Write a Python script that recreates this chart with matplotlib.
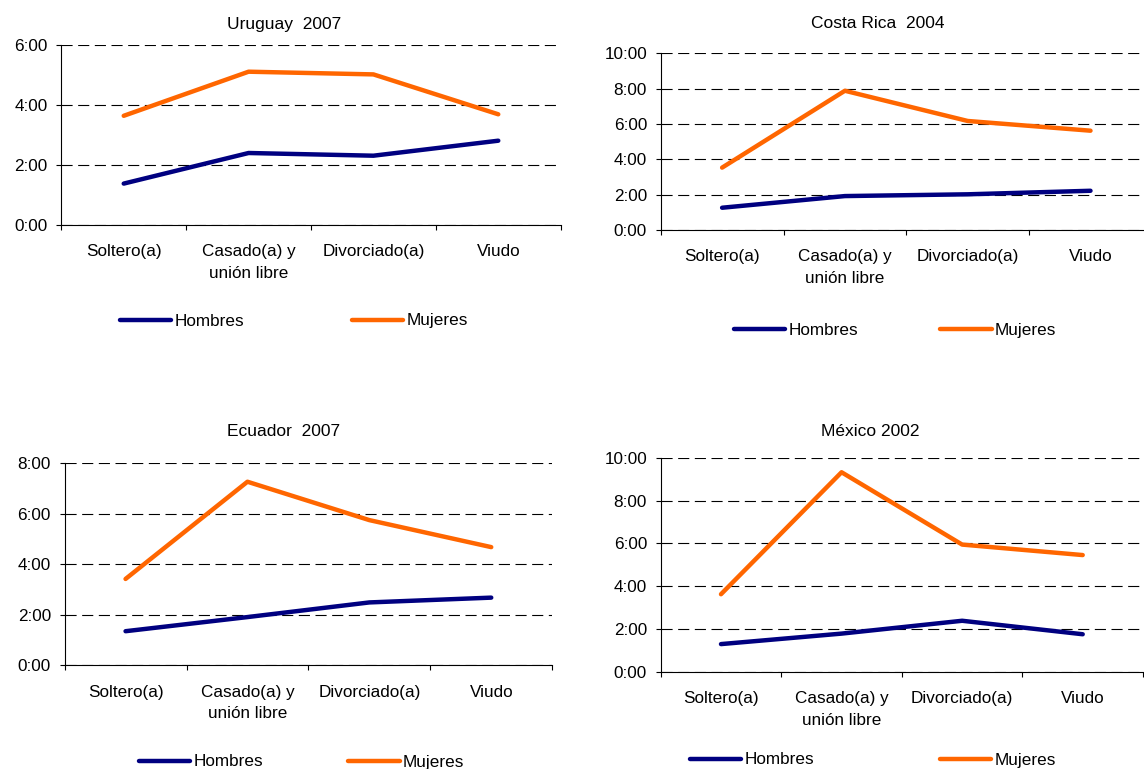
import numpy as np
import matplotlib
matplotlib.use('Agg')
import matplotlib.pyplot as plt
from matplotlib.ticker import FuncFormatter, FixedLocator

plt.rcParams['font.family'] = ['Liberation Sans', 'DejaVu Sans']

categorias = ['Soltero(a)', 'Casado(a) y\nunión libre', 'Divorciado(a)', 'Viudo']

# horas diarias promedio (en horas decimales)
uruguay_hombres = [1.38, 2.40, 2.31, 2.81]
uruguay_mujeres = [3.64, 5.11, 5.02, 3.69]
costarica_hombres = [1.26, 1.92, 2.02, 2.22]
costarica_mujeres = [3.53, 7.88, 6.17, 5.62]
ecuador_hombres = [1.35, 1.91, 2.49, 2.68]
ecuador_mujeres = [3.42, 7.27, 5.75, 4.68]
mexico_hombres = [1.29, 1.78, 2.38, 1.75]
mexico_mujeres = [3.62, 9.32, 5.94, 5.45]

titulos = ['Uruguay  2007', 'Costa Rica  2004', 'Ecuador  2007', 'México 2002']
y_max = [6, 10, 8, 10]

AZUL = '#000080'
NARANJA = '#FF6600'

W, H = 1144, 769
fig = plt.figure(figsize=(W / 100, H / 100), dpi=100)


def caja(left, right, top, bottom):
    # pixel box -> figure fraction
    return [left / W, 1 - bottom / H, (right - left) / W, (bottom - top) / H]


def hh_mm(v, pos):
    h = int(v)
    m = int(round((v - h) * 60))
    return '%d:%02d' % (h, m)


# (caja de ejes, posicion del titulo, inicio de la leyenda, espacio entre entradas)
layout = [
    ((61.3, 560.7, 45, 225), (284.6, 24), (120, 321), 6.3),
    ((660.7, 1151.9, 53.3, 230), (877.7, 24), (734, 330), 4.8),
    ((64.6, 552.2, 463.3, 665.3), (283.8, 431.7), (138.6, 762), 5.0),
    ((660.7, 1143, 457.7, 671.7), (870.4, 431.7), (689.5, 760), 7.4),
]
hombres = [uruguay_hombres, costarica_hombres, ecuador_hombres, mexico_hombres]
mujeres = [uruguay_mujeres, costarica_mujeres, ecuador_mujeres, mexico_mujeres]

x = np.arange(len(categorias)) + 0.5

for i in range(4):
    box, tpos, lpos, colsp = layout[i]
    ax = fig.add_axes(caja(*box))
    ax.set_facecolor('none')

    l1, = ax.plot(x, hombres[i], color=AZUL, lw=3.2, solid_capstyle='round',
                  solid_joinstyle='round', label='Hombres', zorder=3)
    l2, = ax.plot(x, mujeres[i], color=NARANJA, lw=3.2, solid_capstyle='round',
                  solid_joinstyle='round', label='Mujeres', zorder=3)

    ax.set_xlim(0, len(categorias))
    ax.set_ylim(0, y_max[i])
    ax.yaxis.set_major_locator(FixedLocator(np.arange(0, y_max[i] + 1, 2)))
    ax.yaxis.set_major_formatter(FuncFormatter(hh_mm))
    ax.yaxis.grid(True, color='black', lw=0.8, ls=(0, (10, 5)))
    ax.set_axisbelow(True)

    ax.set_xticks(np.arange(len(categorias) + 1))
    ax.set_xticklabels([])
    ax.set_xticks(x, minor=True)
    ax.set_xticklabels(categorias, minor=True, fontsize=12.3)
    for lbl in ax.get_xticklabels(minor=True):
        lbl.set_linespacing(1.55)
    ax.tick_params(axis='x', which='major', direction='out', length=3.8,
                   width=0.8, color='black')
    ax.tick_params(axis='x', which='minor', length=0, pad=14)
    ax.tick_params(axis='y', direction='out', length=3.8, width=0.8,
                   pad=6, labelsize=12.3)

    for s in ['top', 'right']:
        ax.spines[s].set_visible(False)
    for s in ['left', 'bottom']:
        ax.spines[s].set_linewidth(0.8)
        ax.spines[s].set_color('black')

    fig.text(tpos[0] / W, 1 - tpos[1] / H, titulos[i], ha='center',
             va='center', fontsize=12.5)

    fig.legend(handles=[l1, l2], loc='center left',
               bbox_to_anchor=(lpos[0] / W, 1 - lpos[1] / H),
               bbox_transform=fig.transFigure, ncol=2, frameon=False,
               fontsize=12.3, borderpad=0, borderaxespad=0,
               handlelength=3.0, handletextpad=0.2, columnspacing=colsp)

fig.savefig('out.png', dpi=100)
